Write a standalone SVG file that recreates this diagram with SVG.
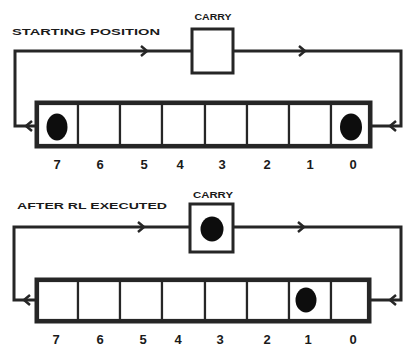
<svg xmlns="http://www.w3.org/2000/svg" width="408" height="349" viewBox="0 0 408 349">
<style>
.ln{fill:none;stroke:#262626;stroke-width:3;stroke-linejoin:miter}
.ch{fill:none;stroke:#262626;stroke-width:2.5}
.box{fill:#fff;stroke:#262626;stroke-width:3}
.cell{fill:#fff;stroke:#262626;stroke-width:2.2}
.dot{fill:#0d0d0d}
.lbl{font-family:"Liberation Sans",Arial,sans-serif;font-weight:bold;font-size:9.5px;fill:#1a1a1a}
.dig{font-family:"Liberation Sans",Arial,sans-serif;font-weight:bold;font-size:13px;fill:#1a1a1a;text-anchor:middle}
</style>
<rect width="408" height="349" fill="#fff"/>
<g id="connectors">
<path class="ln" d="M36 126 H15 V51 H192"/>
<path class="ch" d="M141 46 L147 51 L141 56"/>
<path class="ln" d="M233 51 H401 V126 H371"/>
<path class="ch" d="M299 46 L305 51 L299 56"/>
<path class="ch" d="M396 121 L390 126 L396 131"/>
<path class="ch" d="M32 121 L26 126 L32 131"/>
<path class="ln" d="M36 300 H14 V227 H190"/>
<path class="ch" d="M138 222 L144 227 L138 232"/>
<path class="ln" d="M233 227 H401 V300 H370"/>
<path class="ch" d="M298 222 L304 227 L298 232"/>
<path class="ch" d="M396 295 L390 300 L396 305"/>
<path class="ch" d="M30 295 L24 300 L30 305"/>
</g>
<g id="title-top"><text class="lbl" x="12" y="35" textLength="148" lengthAdjust="spacingAndGlyphs">STARTING POSITION</text></g>
<g id="carry-top">
<text class="lbl" x="213" y="20" text-anchor="middle" textLength="37" lengthAdjust="spacingAndGlyphs">CARRY</text>
<rect class="box" x="192" y="29" width="41" height="44"/>
</g>
<g id="register-top">
<rect class="box" x="36" y="102" width="335" height="45"/>
<rect class="cell" x="38" y="104" width="40" height="41"/>
<rect class="cell" x="78" y="104" width="42" height="41"/>
<rect class="cell" x="120" y="104" width="42" height="41"/>
<rect class="cell" x="162" y="104" width="43" height="41"/>
<rect class="cell" x="205" y="104" width="42" height="41"/>
<rect class="cell" x="247" y="104" width="42" height="41"/>
<rect class="cell" x="289" y="104" width="42" height="41"/>
<rect class="cell" x="331" y="104" width="38" height="41"/>
<ellipse class="dot" cx="57" cy="127" rx="10.5" ry="13.5"/>
<ellipse class="dot" cx="351" cy="127" rx="11" ry="13.5"/>
</g>
<g id="digits-top">
<text class="dig" x="57" y="169">7</text>
<text class="dig" x="100" y="169">6</text>
<text class="dig" x="144" y="169">5</text>
<text class="dig" x="180" y="169">4</text>
<text class="dig" x="222" y="169">3</text>
<text class="dig" x="267" y="169">2</text>
<text class="dig" x="310" y="169">1</text>
<text class="dig" x="353" y="169">0</text>
</g>
<g id="title-bottom"><text class="lbl" x="17" y="209" textLength="150" lengthAdjust="spacingAndGlyphs">AFTER RL EXECUTED</text></g>
<g id="carry-bottom">
<text class="lbl" x="213" y="198" text-anchor="middle" textLength="40" lengthAdjust="spacingAndGlyphs">CARRY</text>
<rect class="box" x="190" y="204" width="43" height="48"/>
<ellipse class="dot" cx="212" cy="229" rx="11.5" ry="12.5"/>
</g>
<g id="register-bottom">
<rect class="box" x="36" y="279" width="334" height="43"/>
<rect class="cell" x="38" y="281" width="40" height="39"/>
<rect class="cell" x="78" y="281" width="42" height="39"/>
<rect class="cell" x="120" y="281" width="42" height="39"/>
<rect class="cell" x="162" y="281" width="43" height="39"/>
<rect class="cell" x="205" y="281" width="42" height="39"/>
<rect class="cell" x="247" y="281" width="42" height="39"/>
<rect class="cell" x="289" y="281" width="42" height="39"/>
<rect class="cell" x="331" y="281" width="37" height="39"/>
<ellipse class="dot" cx="306" cy="300" rx="10.5" ry="12.5"/>
</g>
<g id="digits-bottom">
<text class="dig" x="56" y="344">7</text>
<text class="dig" x="100" y="344">6</text>
<text class="dig" x="143" y="344">5</text>
<text class="dig" x="178" y="344">4</text>
<text class="dig" x="220" y="344">3</text>
<text class="dig" x="267" y="344">2</text>
<text class="dig" x="308" y="344">1</text>
<text class="dig" x="353" y="344">0</text>
</g>
</svg>
